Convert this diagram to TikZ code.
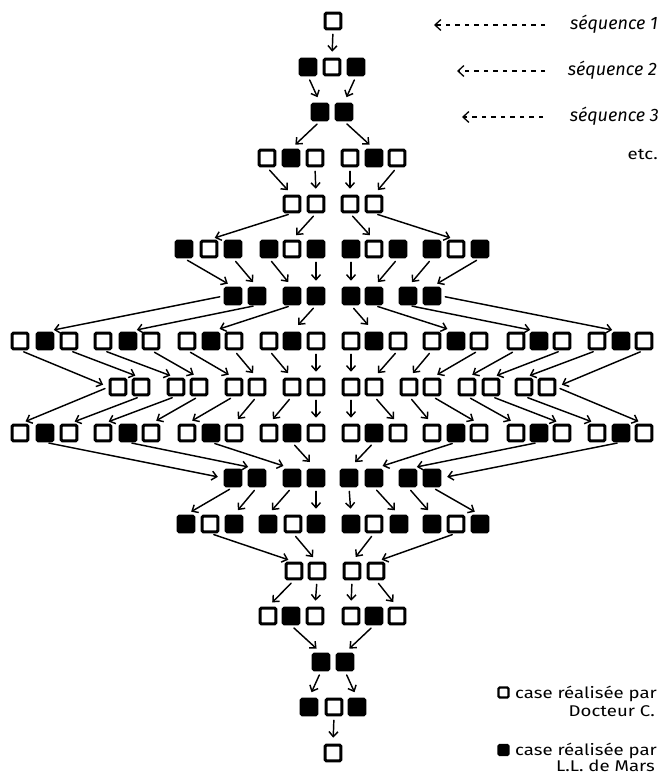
\documentclass[tikz,border=0pt]{standalone}
\usepackage{fontspec}
\newfontfamily\hand[FakeStretch=1.2]{Fira Sans}
\newfontfamily\handit{Fira Sans}
\usetikzlibrary{arrows.meta}
\newcommand\placerow[3]{%
  \foreach \xx/\cc [count=\ii] in {#3} {\node[sq\cc] (r#1n\ii) at (\xx,#2) {};}}
\tikzset{
  sq/.style={minimum size=15.6pt, inner sep=0pt, line width=3pt, rounded corners=1.2pt, draw=black},
  sqw/.style={sq, fill=white},
  sqb/.style={sq, fill=black},
  arr/.style={line width=1.45pt, line cap=round, -{Straight Barb[length=5pt,width=9pt]}, shorten <=4pt, shorten >=6pt},
  longarr/.style={arr, shorten >=9pt},
  darr/.style={line width=1.3pt, dash pattern=on 4.5pt off 5pt, -{Straight Barb[length=6pt,width=11pt]}},
  lbl/.style={inner sep=0pt, font=\hand\fontsize{15.5}{16}\selectfont},
  seq/.style={inner sep=0pt, font=\handit\itshape\fontsize{18}{18}\selectfont},
}
\begin{document}
\begin{tikzpicture}[x=1pt,y=-1pt]
\useasboundingbox (0,0) rectangle (661,775);
% squares
\placerow{1}{21}{333/w}
\placerow{2}{67}{308/b,332/w,356/b}
\placerow{3}{112}{320/b,344/b}
\placerow{4}{158}{267/w,291/b,315/w,350/w,374/b,397/w}
\placerow{5}{204}{292/w,316/w,350/w,374/w}
\placerow{6}{249}{184/b,209/w,233/b,269/b,292/w,316/b,351/b,374/w,398/b,432/b,456/w,480/b}
\placerow{7}{296}{233/b,257/b,292/b,316/b,351/b,374/b,408/b,432/b}
\placerow{8}{341}{20/w,45/b,69/w,103/w,128/b,151/w,187/w,211/b,234/w,269/w,292/b,316/w,351/w,374/b,398/w,432/w,456/b,479/w,516/w,539/b,562/w,597/w,621/b,644/w}
\placerow{9}{387}{118/w,141/w,176/w,199/w,234/w,257/w,292/w,316/w,351/w,374/w,409/w,432/w,467/w,491/w,524/w,547/w}
\placerow{10}{433}{20/w,45/b,69/w,103/w,128/b,151/w,187/w,211/b,234/w,269/w,292/b,316/w,351/w,374/b,398/w,432/w,456/b,479/w,516/w,539/b,562/w,597/w,621/b,644/w}
\placerow{11}{478}{233/b,257/b,292/b,316/b,349/b,374/b,408/b,432/b}
\placerow{12}{524}{186/b,210/w,234/b,268/b,293/w,316/b,351/b,374/w,399/b,432/b,456/w,480/b}
\placerow{13}{571}{294/w,317/w,352/w,376/w}
\placerow{14}{616}{268/w,291/b,315/w,351/w,374/b,397/w}
\placerow{15}{662}{321/b,345/b}
\placerow{16}{707}{309/b,334/w,357/b}
\placerow{17}{753}{333/w}
% arrows south -> north
\foreach \s/\t in {r1n1/r2n2, r2n1/r3n1, r2n3/r3n2, r3n1/r4n2, r3n2/r4n5,
  r4n1/r5n1, r4n3/r5n2, r4n4/r5n3, r4n6/r5n4,
  r5n1/r6n2, r5n2/r6n5, r5n3/r6n8, r5n4/r6n11,
  r6n1/r7n1, r6n3/r7n2, r6n4/r7n3, r6n6/r7n4, r6n7/r7n5, r6n9/r7n6, r6n10/r7n7, r6n12/r7n8,
  r8n3/r9n2, r8n4/r9n3, r8n6/r9n4, r8n7/r9n5, r8n9/r9n6, r8n10/r9n7, r8n12/r9n8,
  r8n13/r9n9, r8n15/r9n10, r8n16/r9n11, r8n18/r9n12, r8n19/r9n13, r8n21/r9n14, r8n22/r9n15,
  r9n2/r10n3, r9n3/r10n4, r9n4/r10n6, r9n5/r10n7, r9n6/r10n9, r9n7/r10n10, r9n8/r10n12,
  r9n9/r10n13, r9n10/r10n15, r9n11/r10n16, r9n12/r10n18, r9n13/r10n19, r9n14/r10n21, r9n15/r10n22,
  r11n1/r12n1, r11n2/r12n3, r11n3/r12n4, r11n4/r12n6, r11n5/r12n7, r11n6/r12n9, r11n7/r12n10, r11n8/r12n12,
  r12n2/r13n1, r12n5/r13n2, r12n8/r13n3, r12n11/r13n4,
  r13n1/r14n1, r13n2/r14n3, r13n3/r14n4, r13n4/r14n6,
  r14n2/r15n1, r14n5/r15n2, r15n1/r16n1, r15n2/r16n3, r16n2/r17n1}
  {\draw[arr] (\s.south) -- (\t.north);}
% long arrows
\foreach \s/\t in {r7n2/r8n5, r7n3/r8n8, r7n4/r8n11, r7n5/r8n14, r7n6/r8n17, r7n7/r8n20,
  r10n5/r11n2, r10n8/r11n3, r10n11/r11n4, r10n14/r11n5, r10n17/r11n6, r10n20/r11n7}
  {\draw[longarr] (\s.south) -- (\t.north);}
\draw[longarr] (r7n1.west) -- (r8n2.north);
\draw[longarr] (r7n8.east) -- (r8n23.north);
\draw[arr] (r8n1.south) -- (r9n1.west);
\draw[arr] (r8n24.south) -- (r9n16.east);
\draw[arr] (r9n1.west) -- (r10n1.north);
\draw[arr] (r9n16.east) -- (r10n24.north);
\draw[arr] (r10n2.south) -- (r11n1.west);
\draw[arr] (r10n23.south) -- (r11n8.east);
% sequence labels
\node[seq, anchor=base east] (s1) at (658,30) {séquence 1};
\node[seq, anchor=base east] (s2) at (657,76) {séquence 2};
\node[seq, anchor=base east] (s3) at (659,122) {séquence 3};
\node[lbl, anchor=base east] (etc) at (658,160) {etc.};
\coordinate (d1s) at (545,25); \coordinate (d1e) at (434,25);
\coordinate (d2s) at (545,71); \coordinate (d2e) at (457,71);
\coordinate (d3s) at (543,117); \coordinate (d3e) at (462,117);
\draw[darr] (d1s) -- (d1e);
\draw[darr] (d2s) -- (d2e);
\draw[darr] (d3s) -- (d3e);
% legend
\node[sqw, minimum size=10pt, line width=2.2pt] (lw) at (503.5,692.5) {};
\node[sqb, minimum size=10pt, line width=2.2pt] (lb) at (503.5,750) {};
\node[lbl, anchor=base west] (l1) at (515,698) {case réalisée par};
\node[lbl, anchor=base east] (l2) at (655,716) {Docteur C.};
\node[lbl, anchor=base west] (l3) at (515,755) {case réalisée par};
\node[lbl, anchor=base east] (l4) at (655,771) {L.L. de Mars};
\end{tikzpicture}
\end{document}
